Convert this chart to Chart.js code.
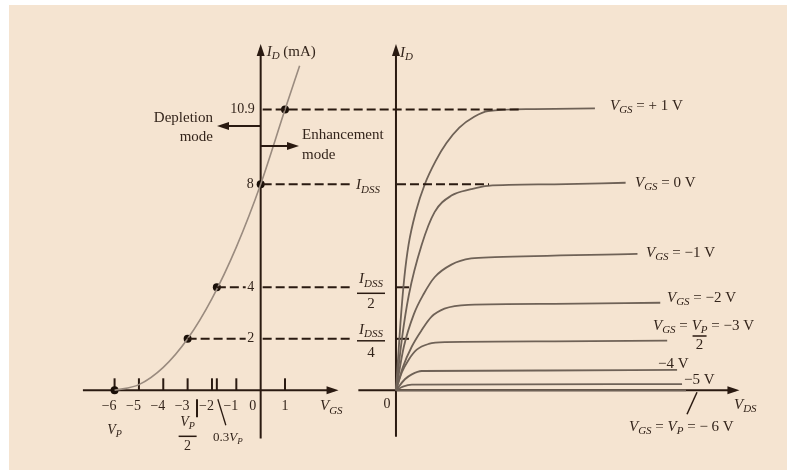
<!DOCTYPE html>
<html><head><meta charset="utf-8">
<script src="https://cdn.jsdelivr.net/npm/chart.js@4.4.1/dist/chart.umd.min.js"></script>
<style>html,body{margin:0;padding:0;background:#fff;}canvas{display:block;}</style>
</head><body>
<canvas id="c" width="787" height="470"></canvas>
<script>
// ---- Transfer characteristic (left): V_GS (V) vs I_D (mA)
const vgsPoints   = [-6, -5, -4, -3, -2, -1, 0, 1, 1.6];
const idTransfer  = [0, 0.22, 0.89, 2, 3.56, 5.56, 8, 10.9, 12.6];
const markedVgs   = [-6, -3, -1.8, 0, 1];
const markedId    = [0, 2, 4, 8, 10.9];
const vgsTicks    = [-6, -5, -4, -3, -2, -1.8, -1, 1];
const vgsLabelPos = [-6, -5, -4, -3, -2, -1];
const vgsLabels   = ['−6', '−5', '−4', '−3', '−2', '−1'];
const idLevels    = [10.9, 8, 4, 2];
const idLabels    = ['10.9', '8', '4', '2'];

// ---- Drain characteristics (right): V_DS (arbitrary units) vs I_D (mA)
const vdsP1 = [0, 0.45, 0.85, 1.27, 2.0, 2.93, 4.0, 5.1, 6.4, 7.9, 9.3, 14, 20.1];
const idP1  = [0, 2.6, 4.4, 5.65, 6.92, 8.02, 8.9, 9.6, 10.2, 10.62, 10.84, 10.92, 10.95];
const vds0  = [0, 0.6, 1.3, 2.6, 3.9, 5.6, 7.6, 9.3, 16, 23.2];
const id0   = [0, 2.0, 3.7, 5.65, 6.92, 7.56, 7.81, 7.94, 8.0, 8.06];
const vdsM1 = [0, 0.8, 1.8, 2.8, 3.9, 5.6, 7.6, 10, 24.4];
const idM1  = [0, 1.7, 2.95, 3.74, 4.39, 4.88, 5.12, 5.17, 5.3];
const vdsM2 = [0, 0.7, 1.6, 2.6, 3.6, 4.9, 7.3, 16, 26.7];
const idM2  = [0, 0.9, 1.7, 2.34, 2.86, 3.17, 3.32, 3.36, 3.4];
const vdsM3 = [0, 0.6, 1.3, 2.1, 3.3, 5, 16, 27.4];
const idM3  = [0, 0.7, 1.2, 1.58, 1.8, 1.87, 1.9, 1.93];
const vdsM4 = [0, 0.9, 1.6, 2.6, 15, 28.4];
const idM4  = [0, 0.43, 0.62, 0.75, 0.77, 0.79];
const vdsM5 = [0, 0.7, 1.6, 28.9];
const idM5  = [0, 0.14, 0.22, 0.24];
const vdsM6 = [0, 29.3];
const idM6  = [0, 0];
const dashEndVds = [12.4, 9.4];   // right end of the 10.9 and 8 mA dashed lines

const pts = (xs, ys) => xs.map((x, i) => ({x, y: ys[i]}));
const INK = '#2a1a11', TXT = '#33241b', CURVE = '#6f6257';
const SERIF = '"Liberation Serif","Times New Roman",serif';

function rich(ctx, segs, x, y, align, size) {
  const b = size || 15, s = Math.round(b * 0.72);
  const f = {n: `${b}px ${SERIF}`, i: `italic ${b}px ${SERIF}`, s: `italic ${s}px ${SERIF}`};
  let w = 0;
  for (const [t, st] of segs) { ctx.font = f[st]; w += ctx.measureText(t).width; }
  let cx = align === 'right' ? x - w : align === 'center' ? x - w / 2 : x;
  ctx.textAlign = 'left'; ctx.textBaseline = 'middle'; ctx.fillStyle = TXT;
  for (const [t, st] of segs) {
    ctx.font = f[st];
    ctx.fillText(t, cx, st === 's' ? y + b * 0.3 : y);
    cx += ctx.measureText(t).width;
  }
  return w;
}
function line(ctx, x1, y1, x2, y2, w, dash) {
  ctx.save(); ctx.strokeStyle = INK; ctx.lineWidth = w || 2; ctx.setLineDash(dash || []);
  ctx.beginPath(); ctx.moveTo(x1, y1); ctx.lineTo(x2, y2); ctx.stroke(); ctx.restore();
}
function head(ctx, x, y, dir) {
  ctx.save(); ctx.fillStyle = INK; ctx.beginPath();
  if (dir === 'up') { ctx.moveTo(x, y); ctx.lineTo(x - 4, y + 12); ctx.lineTo(x + 4, y + 12); }
  else if (dir === 'right') { ctx.moveTo(x, y); ctx.lineTo(x - 12, y - 4); ctx.lineTo(x - 12, y + 4); }
  else { ctx.moveTo(x, y); ctx.lineTo(x + 12, y - 4); ctx.lineTo(x + 12, y + 4); }
  ctx.closePath(); ctx.fill(); ctx.restore();
}
function frac(ctx, numSegs, den, cx, yNum, yBar, yDen, half, size) {
  rich(ctx, numSegs, cx, yNum, 'center', size);
  line(ctx, cx - half, yBar, cx + half, yBar, 1.5);
  rich(ctx, [[den, 'n']], cx, yDen, 'center', size);
}

const decor = {
  id: 'decor',
  beforeDraw(chart) {
    const ctx = chart.ctx;
    ctx.save();
    ctx.fillStyle = '#ffffff'; ctx.fillRect(0, 0, chart.width, chart.height);
    ctx.fillStyle = '#f5e4d1'; ctx.fillRect(9, 5, chart.width - 9, chart.height - 5);
    ctx.restore();
  },
  beforeDatasetsDraw(chart) {
    const ctx = chart.ctx, xL = chart.scales.xL, xR = chart.scales.xR, yS = chart.scales.y;
    const X = v => xL.getPixelForValue(v), R = v => xR.getPixelForValue(v), Y = v => yS.getPixelForValue(v);
    const y0 = Y(0), ax = X(0), rx = R(0);
    // axes
    line(ctx, ax, Y(13.45) + 4, ax, Y(-1.87), 2); head(ctx, ax, Y(13.45), 'up');
    line(ctx, X(-7.3), y0, X(3.2) - 4, y0, 2); head(ctx, X(3.2), y0, 'right');
    line(ctx, rx, Y(13.45) + 4, rx, Y(-1.8), 2); head(ctx, rx, Y(13.45), 'up');
    line(ctx, R(-3.8), y0, R(34.7) - 4, y0, 2); head(ctx, R(34.7), y0, 'right');
    // V_GS ticks
    for (const v of vgsTicks) line(ctx, X(v), y0, X(v), y0 - 12, 2);
    // right axis ticks at I_DSS/2 and I_DSS/4
    line(ctx, rx, Y(idLevels[2]), rx + 13, Y(idLevels[2]), 2);
    line(ctx, rx, Y(idLevels[3]), rx + 13, Y(idLevels[3]), 2);
  },
  afterDatasetsDraw(chart) {
    const ctx = chart.ctx, xL = chart.scales.xL, xR = chart.scales.xR, yS = chart.scales.y;
    const X = v => xL.getPixelForValue(v), R = v => xR.getPixelForValue(v), Y = v => yS.getPixelForValue(v);
    const y0 = Y(0), ax = X(0), rx = R(0);
    const D = [9, 4];
    // dashed projection lines
    line(ctx, ax + 2, Y(idLevels[0]), R(dashEndVds[0]), Y(idLevels[0]), 2, D);
    line(ctx, ax + 2, Y(idLevels[1]), rx - 46, Y(idLevels[1]), 2, D);
    line(ctx, rx + 1, Y(idLevels[1]), R(dashEndVds[1]), Y(idLevels[1]), 2, D);
    line(ctx, X(-1.8), Y(idLevels[2]), ax - 15, Y(idLevels[2]), 2, D);
    line(ctx, ax + 2, Y(idLevels[2]), rx - 46, Y(idLevels[2]), 2, D);
    line(ctx, X(-3), Y(idLevels[3]), ax - 15, Y(idLevels[3]), 2, D);
    line(ctx, ax + 2, Y(idLevels[3]), rx - 46, Y(idLevels[3]), 2, D);
    // I_D level labels
    rich(ctx, [[idLabels[0], 'n']], ax - 6, Y(idLevels[0]), 'right', 14);
    rich(ctx, [[idLabels[1], 'n']], ax - 7, Y(idLevels[1]), 'right', 14);
    rich(ctx, [[idLabels[2], 'n']], ax - 10, Y(idLevels[2]), 'center', 14);
    rich(ctx, [[idLabels[3], 'n']], ax - 10, Y(idLevels[3]), 'center', 14);
    // V_GS tick labels
    vgsLabelPos.forEach((v, i) => rich(ctx, [[vgsLabels[i], 'n']], X(v) + 2, y0 + 16, 'right', 14));
    rich(ctx, [['0', 'n']], ax - 8, y0 + 16, 'center', 14);
    rich(ctx, [['1', 'n']], X(1), y0 + 16, 'center', 14);
    line(ctx, 197, y0 + 9, 197, y0 + 27, 2);
    line(ctx, X(-1.8) + 1, y0 + 9, X(-1.8) + 9, y0 + 35, 1.3);
    rich(ctx, [['V', 'i'], ['P', 's']], X(-6), y0 + 40, 'center', 14);
    frac(ctx, [['V', 'i'], ['P', 's']], '2', X(-3), y0 + 32, y0 + 46, y0 + 56, 9, 14);
    rich(ctx, [['0.3', 'n'], ['V', 'i'], ['P', 's']], 213, y0 + 47, 'left', 13);
    rich(ctx, [['V', 'i'], ['GS', 's']], 320, y0 + 16, 'left', 15);
    // axis titles
    rich(ctx, [['I', 'i'], ['D', 's'], [' (mA)', 'n']], ax + 6, 52, 'left', 15);
    rich(ctx, [['I', 'i'], ['D', 's']], rx + 4, 53, 'left', 15);
    rich(ctx, [['0', 'n']], rx - 9, y0 + 14, 'center', 14);
    // mode arrows
    line(ctx, ax, 126, 224, 126, 2); head(ctx, 217, 126, 'left');
    line(ctx, ax, 146, 291, 146, 2); head(ctx, 299, 146, 'right');
    rich(ctx, [['Depletion', 'n']], 213, 118, 'right', 15);
    rich(ctx, [['mode', 'n']], 213, 137, 'right', 15);
    rich(ctx, [['Enhancement', 'n']], 302, 135, 'left', 15);
    rich(ctx, [['mode', 'n']], 302, 155, 'left', 15);
    // I_DSS labels
    rich(ctx, [['I', 'i'], ['DSS', 's']], 356, Y(idLevels[1]) + 1, 'left', 15);
    frac(ctx, [['I', 'i'], ['DSS', 's']], '2', 371, Y(idLevels[2]) - 8, Y(idLevels[2]) + 6, Y(idLevels[2]) + 17, 14, 15);
    frac(ctx, [['I', 'i'], ['DSS', 's']], '4', 371, Y(idLevels[3]) - 9, Y(idLevels[3]) + 2, Y(idLevels[3]) + 14, 14, 15);
    // curve labels
    rich(ctx, [['V', 'i'], ['GS', 's'], [' = + 1 V', 'n']], 610, 106, 'left', 15);
    rich(ctx, [['V', 'i'], ['GS', 's'], [' = 0 V', 'n']], 635, 183, 'left', 15);
    rich(ctx, [['V', 'i'], ['GS', 's'], [' = −1 V', 'n']], 646, 253, 'left', 15);
    rich(ctx, [['V', 'i'], ['GS', 's'], [' = −2 V', 'n']], 667, 298, 'left', 15);
    let w = rich(ctx, [['V', 'i'], ['GS', 's'], [' = ', 'n']], 653, 326, 'left', 15);
    frac(ctx, [['V', 'i'], ['P', 's']], '2', 653 + w + 8, 326, 336, 345, 7, 15);
    rich(ctx, [[' = −3 V', 'n']], 653 + w + 16, 326, 'left', 15);
    rich(ctx, [['−4 V', 'n']], 658, 364, 'left', 15);
    rich(ctx, [['−5 V', 'n']], 684, 380, 'left', 15);
    rich(ctx, [['V', 'i'], ['DS', 's']], 734, 405, 'left', 15);
    rich(ctx, [['V', 'i'], ['GS', 's'], [' = ', 'n'], ['V', 'i'], ['P', 's'], [' = − 6 V', 'n']], 629, 427, 'left', 15);
    line(ctx, 697, y0 + 2, 687, y0 + 24, 1.5);
  }
};

const curveDS = (xs, ys) => ({
  data: pts(xs, ys), xAxisID: 'xR', yAxisID: 'y', showLine: true, borderColor: CURVE,
  borderWidth: 1.8, pointRadius: 0, cubicInterpolationMode: 'monotone', fill: false
});

new Chart(document.getElementById('c'), {
  type: 'scatter',
  data: {
    datasets: [
      { data: pts(vgsPoints, idTransfer), xAxisID: 'xL', yAxisID: 'y', showLine: true, borderColor: '#9a8b7f',
        borderWidth: 1.6, pointRadius: 0, cubicInterpolationMode: 'monotone', fill: false },
      curveDS(vdsP1, idP1), curveDS(vds0, id0), curveDS(vdsM1, idM1), curveDS(vdsM2, idM2),
      curveDS(vdsM3, idM3), curveDS(vdsM4, idM4), curveDS(vdsM5, idM5), curveDS(vdsM6, idM6),
      { data: pts(markedVgs, markedId), xAxisID: 'xL', yAxisID: 'y', showLine: false, pointRadius: 4,
        pointBackgroundColor: '#1a0f08', pointBorderWidth: 0 }
    ]
  },
  options: {
    responsive: false, animation: false, events: [],
    layout: { padding: 0 },
    plugins: { legend: { display: false }, tooltip: { enabled: false } },
    scales: {
      xL: { type: 'linear', position: 'bottom', min: -10.541, max: 21.451, display: false },
      xR: { type: 'linear', position: 'bottom', min: -39.6, max: 39.1, display: false },
      y:  { type: 'linear', min: -2.939, max: 15.0, display: false }
    }
  },
  plugins: [decor]
});
</script>
</body></html>
